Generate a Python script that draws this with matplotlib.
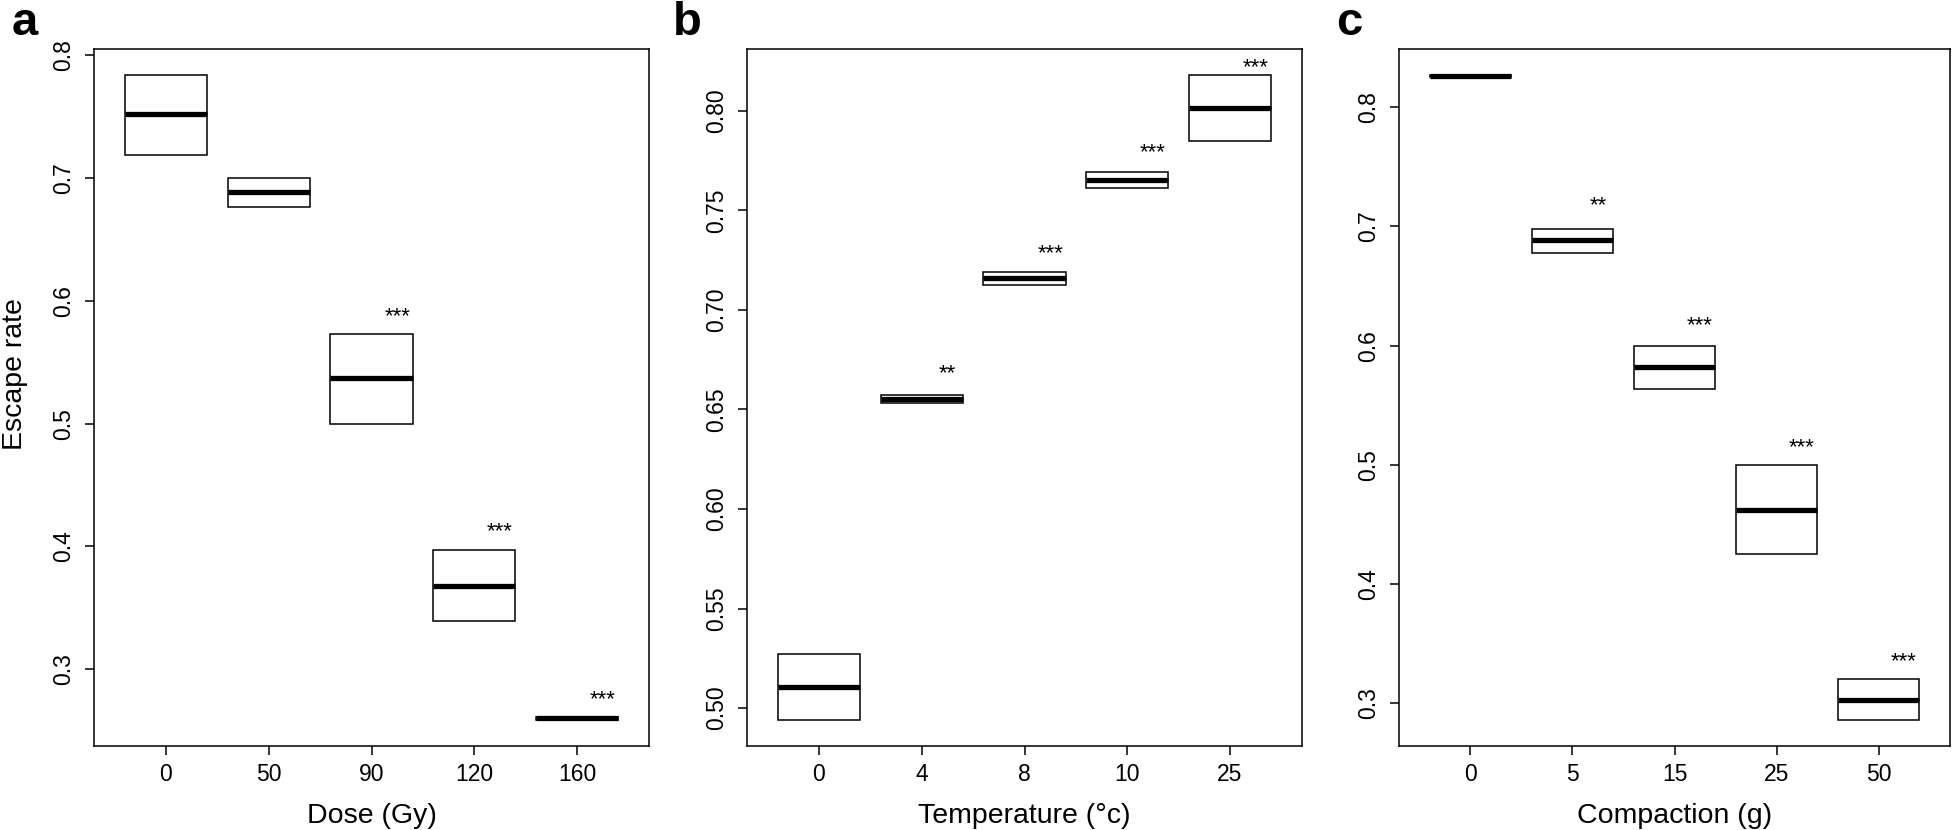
import matplotlib
matplotlib.use('Agg')
import matplotlib.pyplot as plt
import numpy as np

plt.rcParams['font.family'] = ['Liberation Sans', 'DejaVu Sans']

# panel a - dose
dose_labels = ['0', '50', '90', '120', '160']
dose_lo = [0.719, 0.676, 0.500, 0.339, 0.2585]
dose_med = [0.752, 0.6885, 0.537, 0.368, 0.2600]
dose_hi = [0.784, 0.700, 0.573, 0.397, 0.2610]
dose_sig = ['', '', '***', '***', '***']
dose_sig_y = [None, None, 0.593, 0.418, 0.281]

# panel b - temperature
temp_labels = ['0', '4', '8', '10', '25']
temp_lo = [0.4939, 0.6531, 0.7124, 0.7614, 0.7851]
temp_med = [0.5107, 0.6552, 0.7159, 0.7654, 0.8016]
temp_hi = [0.5272, 0.6573, 0.7188, 0.7694, 0.8181]
temp_sig = ['', '**', '***', '***', '***']
temp_sig_y = [None, 0.6714, 0.7316, 0.7827, 0.8253]

# panel c - compaction
comp_labels = ['0', '5', '15', '25', '50']
comp_lo = [0.8255, 0.6779, 0.5634, 0.4248, 0.2858]
comp_med = [0.8263, 0.6886, 0.5821, 0.4622, 0.3027]
comp_hi = [0.8272, 0.6980, 0.5995, 0.5001, 0.3201]
comp_sig = ['', '**', '***', '***', '***']
comp_sig_y = [None, 0.7233, 0.6222, 0.5206, 0.3406]

W, H = 1955, 830
fig = plt.figure(figsize=(W / 100, H / 100), dpi=100)


def px_axes(left, right, top=49, bottom=746):
    return fig.add_axes([left / W, 1 - bottom / H, (right - left) / W, (bottom - top) / H])


def panel(ax, labels, lo, med, hi, sig, sig_y, yticks, yfmt, xlabel):
    x = np.arange(1, len(labels) + 1)
    ax.bar(x, np.array(hi) - np.array(lo), bottom=lo, width=0.8,
           color='white', edgecolor='black', linewidth=1.1, zorder=2)
    ax.hlines(med, x - 0.4, x + 0.4, colors='black', linewidth=3.8, zorder=3)
    for xi, s, sy in zip(x, sig, sig_y):
        if s:
            ax.annotate(s, xy=(xi + 0.25, sy), xytext=(0, -9), textcoords='offset points',
                        ha='center', va='baseline', fontsize=16)
    rng = max(hi) - min(lo)
    ax.set_ylim(min(lo) - 0.04 * rng, max(hi) + 0.04 * rng)
    ax.set_xlim(0.3, len(labels) + 0.7)
    ax.set_xticks(x)
    ax.set_xticklabels(labels)
    ax.set_yticks(yticks)
    ax.set_yticklabels([yfmt.format(v) for v in yticks], rotation=90, va='center')
    ax.tick_params(direction='out', length=6.5, width=1.1, labelsize=16.5, pad=6)
    ax.tick_params(axis='y', pad=7)
    for sp in ax.spines.values():
        sp.set_linewidth(1.1)
    ax.set_xlabel(xlabel, fontsize=20.5, labelpad=12)


ax_a = px_axes(94, 649)
panel(ax_a, dose_labels, dose_lo, dose_med, dose_hi, dose_sig, dose_sig_y,
      [0.3, 0.4, 0.5, 0.6, 0.7, 0.8], '{:.1f}', 'Dose (Gy)')
fig.text(15 / W, 1 - 374 / H, 'Escape rate', fontsize=20.5, rotation=90,
         ha='center', va='center')

ax_b = px_axes(747, 1302)
panel(ax_b, temp_labels, temp_lo, temp_med, temp_hi, temp_sig, temp_sig_y,
      [0.50, 0.55, 0.60, 0.65, 0.70, 0.75, 0.80], '{:.2f}', 'Temperature (°c)')

ax_c = px_axes(1399, 1950)
panel(ax_c, comp_labels, comp_lo, comp_med, comp_hi, comp_sig, comp_sig_y,
      [0.3, 0.4, 0.5, 0.6, 0.7, 0.8], '{:.1f}', 'Compaction (g)')

for letter, xp in [('a', 12), ('b', 673), ('c', 1336)]:
    fig.text(xp / W, 1 - 35 / H, letter, fontsize=34, fontweight='bold', va='baseline')

plt.savefig('out.png', dpi=100)
